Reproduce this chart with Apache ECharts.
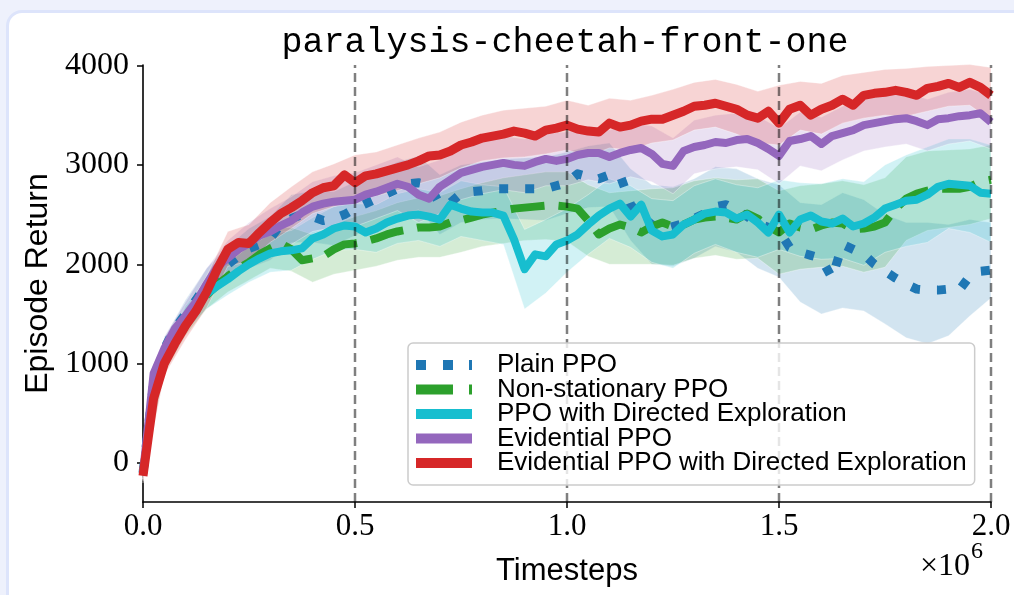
<!DOCTYPE html>
<html><head><meta charset="utf-8">
<script src="https://cdn.jsdelivr.net/npm/echarts@6/dist/echarts.min.js"></script>
<style>
html,body{margin:0;padding:0;width:1014px;height:595px;overflow:hidden;background:#eef1fc;}
#card{position:absolute;left:6px;top:10px;width:1050px;height:640px;background:#fff;border:3px solid #dde4fb;border-radius:16px;box-sizing:border-box;}
#chart{position:absolute;left:0;top:0;width:1014px;height:595px;}
</style></head><body><div id="card"></div><div id="chart"></div>
<script>
const TITLE = 'paralysis-cheetah-front-one';
const X_NAME = 'Timesteps';
const Y_NAME = 'Episode Return';
const X_TICKS = [0, 0.5, 1.0, 1.5, 2.0];
const Y_TICKS = [0, 1000, 2000, 3000, 4000];
const VLINES = [0.5, 1.0, 1.5, 2.0];
const Y_MIN = -392, Y_MAX = 4005;
const NAMES = ['Plain PPO', 'Non-stationary PPO', 'PPO with Directed Exploration', 'Evidential PPO', 'Evidential PPO with Directed Exploration'];

// timesteps (x 10^6)
const STEPS = [0,0.025,0.05,0.075,0.1,0.125,0.15,0.175,0.2,0.225,0.25,0.275,0.3,0.325,0.35,0.375,0.4,0.425,0.45,0.475,0.5,0.525,0.55,0.575,0.6,0.625,0.65,0.675,0.7,0.725,0.75,0.775,0.8,0.825,0.85,0.875,0.9,0.925,0.95,0.975,1.0,1.025,1.05,1.075,1.1,1.125,1.15,1.175,1.2,1.225,1.25,1.275,1.3,1.325,1.35,1.375,1.4,1.425,1.45,1.475,1.5,1.525,1.55,1.575,1.6,1.625,1.65,1.675,1.7,1.725,1.75,1.775,1.8,1.825,1.85,1.875,1.9,1.925,1.95,1.975,2.0];
const BAND_X = [0,0.05,0.1,0.15,0.2,0.25,0.3,0.35,0.4,0.45,0.5,0.55,0.6,0.65,0.7,0.75,0.8,0.85,0.9,0.95,1.0,1.05,1.1,1.15,1.2,1.25,1.3,1.35,1.4,1.45,1.5,1.55,1.6,1.65,1.7,1.75,1.8,1.85,1.9,1.95,2.0];

const PLAIN = [-100,800,1150,1350,1500,1640,1800,1900,2000,2080,2160,2200,2260,2400,2460,2500,2480,2440,2460,2500,2560,2610,2660,2710,2760,2810,2820,2800,2600,2620,2710,2730,2740,2760,2760,2760,2760,2760,2760,2790,2820,2910,2880,2860,2900,2900,2600,2480,2400,2350,2380,2410,2460,2510,2580,2600,2540,2480,2410,2370,2340,2170,2120,2090,2060,1860,2200,2150,2100,2000,1930,1860,1800,1750,1740,1740,1750,1740,1880,1930,1940];
const NONSTAT = [-100,700,1000,1250,1420,1560,1690,1790,1880,1960,2020,2100,2160,2210,2150,2040,2060,2080,2150,2200,2210,2230,2260,2300,2330,2350,2370,2370,2380,2420,2440,2470,2500,2520,2540,2560,2570,2580,2590,2590,2580,2560,2440,2300,2360,2400,2370,2320,2380,2420,2380,2400,2450,2470,2480,2470,2450,2510,2460,2380,2320,2410,2370,2350,2390,2420,2410,2350,2360,2380,2420,2560,2660,2710,2740,2760,2760,2760,2780,2830,2850];
const DIRECTED = [-120,700,1050,1300,1450,1580,1700,1780,1850,1930,2000,2060,2110,2130,2140,2160,2260,2300,2360,2390,2380,2320,2360,2420,2460,2490,2500,2480,2450,2600,2560,2530,2520,2520,2490,2250,1950,2100,2080,2200,2240,2300,2400,2490,2560,2610,2480,2600,2340,2280,2300,2400,2450,2510,2530,2520,2460,2500,2420,2320,2500,2320,2450,2490,2430,2410,2460,2380,2410,2470,2560,2600,2640,2650,2700,2780,2810,2800,2790,2720,2710];
const EVID = [-100,900,1150,1350,1480,1620,1800,1970,2060,2150,2210,2290,2330,2390,2440,2520,2580,2610,2630,2640,2650,2700,2730,2770,2810,2780,2700,2660,2780,2850,2920,2950,2980,3000,3020,3000,2990,3030,3060,3040,3060,3100,3120,3120,3080,3120,3150,3170,3110,3010,2990,3140,3180,3200,3230,3220,3250,3260,3220,3160,3090,3240,3260,3290,3210,3290,3320,3350,3400,3420,3440,3460,3470,3440,3400,3460,3470,3490,3500,3520,3430];
const EVID_DE = [-130,650,1000,1200,1380,1530,1720,1950,2150,2220,2210,2320,2420,2510,2570,2640,2720,2770,2790,2900,2820,2890,2910,2940,2970,3000,3040,3090,3100,3140,3200,3230,3270,3290,3310,3340,3320,3290,3350,3370,3400,3360,3340,3330,3420,3380,3400,3440,3460,3460,3500,3540,3590,3600,3620,3590,3560,3500,3470,3540,3420,3560,3600,3500,3560,3600,3660,3600,3700,3720,3730,3750,3730,3700,3770,3790,3820,3780,3830,3780,3700];

// shaded bands (upper / lower)
const PLAIN_HI = [-40,1260,1640,1960,2180,2360,2480,2700,2740,2730,2830,2930,3030,3090,2900,3000,3030,3060,3070,3080,3130,3190,3220,2960,2800,2780,2860,2980,2960,2860,2800,2620,2600,2720,2650,2500,2420,2420,2400,2450,2420];
const PLAIN_LO = [-160,1040,1360,1640,1820,1960,2040,2220,2220,2190,2290,2390,2490,2550,2300,2420,2450,2460,2450,2440,2510,2570,2580,2240,2000,1980,2060,2180,2120,1960,1870,1620,1500,1560,1530,1400,1260,1200,1280,1480,1660];
const NONSTAT_HI = [-40,1100,1560,1830,2040,2200,2360,2370,2300,2400,2480,2540,2620,2670,2690,2760,2820,2870,2900,2930,2930,2800,2720,2740,2760,2770,2840,2870,2850,2860,2740,2790,2810,2840,2800,2870,3080,3140,3150,3160,3200];
const NONSTAT_LO = [-160,900,1280,1550,1720,1840,1960,1930,1820,1900,1940,1980,2040,2070,2070,2120,2180,2210,2240,2250,2230,2080,2000,2000,2000,1990,2060,2090,2050,2060,1900,1950,1970,1980,1920,1970,2240,2340,2370,2400,2460];
const DIRECTED_HI = [-60,1160,1580,1850,2010,2180,2300,2340,2470,2580,2610,2600,2710,2760,2720,2840,2800,2780,2350,2450,2560,2700,2860,2790,2660,2640,2790,2860,2800,2770,2850,2820,2810,2860,2830,3000,3100,3180,3260,3260,3200];
const DIRECTED_LO = [-180,940,1320,1550,1690,1820,1920,1940,2050,2140,2150,2120,2210,2240,2180,2280,2240,2200,1550,1710,1920,2100,2260,2170,2020,1960,2110,2200,2120,2070,2150,2080,2050,2060,1990,2120,2180,2220,2360,2320,2220];
const EVID_HI = [-30,1270,1620,1960,2240,2420,2560,2680,2830,2890,2920,3000,3080,2980,3050,3190,3250,3290,3260,3320,3330,3390,3350,3420,3390,3270,3450,3500,3520,3490,3370,3530,3480,3590,3660,3700,3730,3660,3730,3760,3700];
const EVID_LO = [-170,1030,1340,1640,1880,2000,2100,2200,2330,2370,2380,2460,2540,2420,2510,2650,2710,2750,2720,2790,2790,2850,2810,2880,2830,2710,2910,2960,2980,2950,2810,2990,2940,3050,3140,3180,3210,3140,3210,3240,3160];
const EVID_DE_HI = [-60,1120,1520,1880,2330,2400,2620,2780,2930,3010,3100,3130,3200,3270,3330,3430,3500,3550,3570,3590,3650,3600,3670,3650,3700,3760,3830,3860,3810,3740,3800,3840,3820,3900,3930,3960,3970,3990,4000,4010,3980];
const EVID_DE_LO = [-200,880,1240,1560,1980,2030,2220,2360,2510,2580,2640,2690,2740,2810,2870,2970,3040,3070,3080,3110,3150,3090,3170,3150,3220,3250,3350,3380,3310,3220,3200,3350,3310,3420,3470,3500,3490,3540,3590,3600,3450];

const MEANS = [PLAIN, NONSTAT, DIRECTED, EVID, EVID_DE];
const HIGHS = [PLAIN_HI, NONSTAT_HI, DIRECTED_HI, EVID_HI, EVID_DE_HI];
const LOWS = [PLAIN_LO, NONSTAT_LO, DIRECTED_LO, EVID_LO, EVID_DE_LO];

const COLORS = ['#1f77b4', '#2ca02c', '#17becf', '#9467bd', '#d62728'];
const BAND_COLORS = ['rgba(31,119,180,0.2)', 'rgba(44,160,44,0.2)', 'rgba(23,190,207,0.2)', 'rgba(148,103,189,0.2)', 'rgba(214,39,40,0.2)'];
const LINE_STYLES = [
  {width: 9, type: [9, 17]},
  {width: 8, type: [34, 14]},
  {width: 8, type: 'solid'},
  {width: 8, type: 'solid'},
  {width: 9, type: 'solid'}
];
const ICONS = [
  'path://M0,0h10v10h-10z M27,0h10v10h-10z M53,0h3v10h-3z',
  'path://M0,0h37v10h-37z M53,0h3v10h-3z',
  'path://M0,0h56v10h-56z',
  'path://M0,0h56v10h-56z',
  'path://M0,0h56v10h-56z'
];

const chart = echarts.init(document.getElementById('chart'), null, {renderer: 'canvas'});
const series = [];
NAMES.forEach((name, k) => {
  series.push({
    type: 'line', name: name,
    data: STEPS.map((x, i) => [x, MEANS[k][i]]),
    showSymbol: false, symbol: 'none', silent: true, z: 2,
    itemStyle: {color: COLORS[k]},
    lineStyle: {color: COLORS[k], width: LINE_STYLES[k].width, type: LINE_STYLES[k].type, cap: 'butt', join: 'round'}
  });
  series.push({
    type: 'custom', name: name + ' band', silent: true, z: 2,
    data: [[0, 0]],
    renderItem: function (params, api) {
      const pts = [];
      for (let j = 0; j < BAND_X.length; j++) pts.push(api.coord([BAND_X[j], HIGHS[k][j]]));
      for (let j = BAND_X.length - 1; j >= 0; j--) pts.push(api.coord([BAND_X[j], LOWS[k][j]]));
      return {type: 'polygon', shape: {points: pts}, style: {fill: BAND_COLORS[k], stroke: 'rgba(255,255,255,0.35)', lineWidth: 1}};
    }
  });
});
series.push({
  type: 'custom', name: 'vlines', silent: true, z: 3,
  data: VLINES.map(v => [v, 0]),
  renderItem: function (params, api) {
    const v = api.value(0);
    const p1 = api.coord([v, Y_MIN]);
    const p2 = api.coord([v, Y_MAX]);
    return {type: 'line', shape: {x1: p1[0], y1: p1[1], x2: p2[0], y2: p2[1]},
      style: {stroke: 'rgba(0,0,0,0.5)', lineWidth: 2.5, lineDash: [9, 5]}};
  }
});

const option = {
  animation: false,
  backgroundColor: 'transparent',
  grid: {left: 143, right: 23, top: 65, bottom: 93},
  xAxis: {
    type: 'value', min: 0, max: 2, interval: 0.5,
    name: X_NAME, nameLocation: 'middle', nameGap: 54,
    nameTextStyle: {fontFamily: 'Liberation Sans', fontSize: 31, color: '#000'},
    axisLine: {onZero: false, lineStyle: {color: '#000', width: 1.6}},
    axisTick: {length: 6, customValues: X_TICKS, lineStyle: {color: '#000', width: 1.5}},
    axisLabel: {customValues: X_TICKS, fontFamily: 'Liberation Serif', fontSize: 31, color: '#000', margin: 9,
      formatter: v => v.toFixed(1)},
    splitLine: {show: false}
  },
  yAxis: {
    type: 'value', min: Y_MIN, max: Y_MAX,
    name: Y_NAME, nameLocation: 'middle', nameGap: 89, nameRotate: 90,
    nameTextStyle: {fontFamily: 'Liberation Sans', fontSize: 32, color: '#000'},
    axisLine: {show: true, onZero: false, lineStyle: {color: '#000', width: 1.6}},
    axisTick: {show: true, length: 6, customValues: Y_TICKS, lineStyle: {color: '#000', width: 1.5}},
    axisLabel: {customValues: Y_TICKS, fontFamily: 'Liberation Serif', fontSize: 32, color: '#000', margin: 14,
      formatter: v => String(v)},
    splitLine: {show: false}
  },
  legend: {
    data: NAMES.map((n, k) => ({name: n, icon: ICONS[k]})),
    orient: 'vertical', left: 408, top: 343,
    itemWidth: 56, itemHeight: 10, itemGap: -1.5,
    padding: [9, 8, 9, 8],
    backgroundColor: 'rgba(255,255,255,0.8)', borderColor: '#cccccc', borderWidth: 1.5, borderRadius: 5,
    itemStyle: {borderWidth: 0},
    textStyle: {fontFamily: 'Liberation Sans', fontSize: 26, lineHeight: 23.5, color: '#000', padding: [0, 0, 0, 20]},
    selectedMode: false
  },
  graphic: [
    {type: 'text', x: 565, y: 43, style: {text: TITLE, fontFamily: 'Liberation Mono', fontSize: 35, fill: '#000', align: 'center', verticalAlign: 'middle'}},
    {type: 'text', x: 920, y: 567, style: {text: '×10', fontFamily: 'Liberation Serif', fontSize: 32, fill: '#000', align: 'left', verticalAlign: 'middle'}},
    {type: 'text', x: 971, y: 552, style: {text: '6', fontFamily: 'Liberation Serif', fontSize: 24, fill: '#000', align: 'left', verticalAlign: 'middle'}}
  ],
  series: series
};
chart.setOption(option);
</script></body></html>
